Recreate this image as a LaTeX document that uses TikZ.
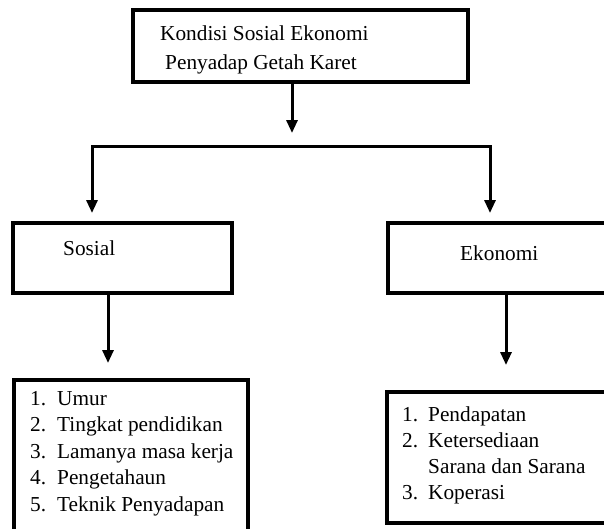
\documentclass[tikz,border=0pt]{standalone}
\usepackage{fontspec}
\setmainfont{Liberation Serif}
\usetikzlibrary{arrows.meta}

\tikzset{
  kotak/.style={draw, line width=3.5pt, outer sep=0pt, inner sep=0pt, anchor=north west},
  teks/.style={anchor=base west, inner sep=0pt, font=\fontsize{21.3}{26}\selectfont},
  panah/.style={line width=3pt, -{Triangle[length=13pt,width=11pt]}},
}

\begin{document}
\begin{tikzpicture}[x=1pt,y=-1pt]
  \useasboundingbox (0,0) rectangle (604,528);
  % kotak
  \node[kotak, minimum width=335pt, minimum height=72pt] (induk) at (133,10) {};
  \node[kotak, minimum width=219pt, minimum height=70pt] (sosial) at (13,223) {};
  \node[kotak, minimum width=236pt, minimum height=70pt] (ekonomi) at (388,223) {};
  \node[kotak, minimum width=234pt, minimum height=160pt] (daftarS) at (14,380) {};
  \node[kotak, minimum width=238pt, minimum height=131pt] (daftarE) at (387,392) {};
  % teks
  \node[teks] (judul1) at (160,40.5) {Kondisi Sosial Ekonomi};
  \node[teks] (judul2) at (165,69) {Penyadap Getah Karet};
  \node[teks] (tSosial) at (63,255) {Sosial};
  \node[teks] (tEkonomi) at (460,260) {Ekonomi};
  \foreach \isi [count=\i] in {Umur, Tingkat pendidikan, Lamanya masa kerja, Pengetahaun, Teknik Penyadapan}
    \node[teks] (s\i) at (30,{405+26.6*(\i-1)}) {\makebox[27pt][l]{\i.}\isi};
  \foreach \no/\isi [count=\i] in {1./Pendapatan, 2./Ketersediaan, /Sarana dan Sarana, 3./Koperasi}
    \node[teks] (e\i) at (402,{421+26*(\i-1)}) {\makebox[26pt][l]{\no}\isi};
  % panah
  \coordinate (cabang) at (292,146); \coordinate (kiri) at (92,146); \coordinate (kanan) at (490,146);
  \draw[panah, shorten >=13pt] (induk.south -| cabang) -- (cabang);
  \draw[panah, {Triangle[length=13pt,width=11pt]}-{Triangle[length=13pt,width=11pt]}, shorten <=10pt, shorten >=10pt]
    (sosial.north -| kiri) -- (kiri) -- (kanan) -- (ekonomi.north -| kanan);
  \draw[panah, shorten >=17pt] ([xshift=-14.5pt]sosial.south) -- ([xshift=-14.5pt]sosial.south |- daftarS.north);
  \draw[panah, shorten >=27pt] (ekonomi.south) -- (daftarE.north);
\end{tikzpicture}
\end{document}
